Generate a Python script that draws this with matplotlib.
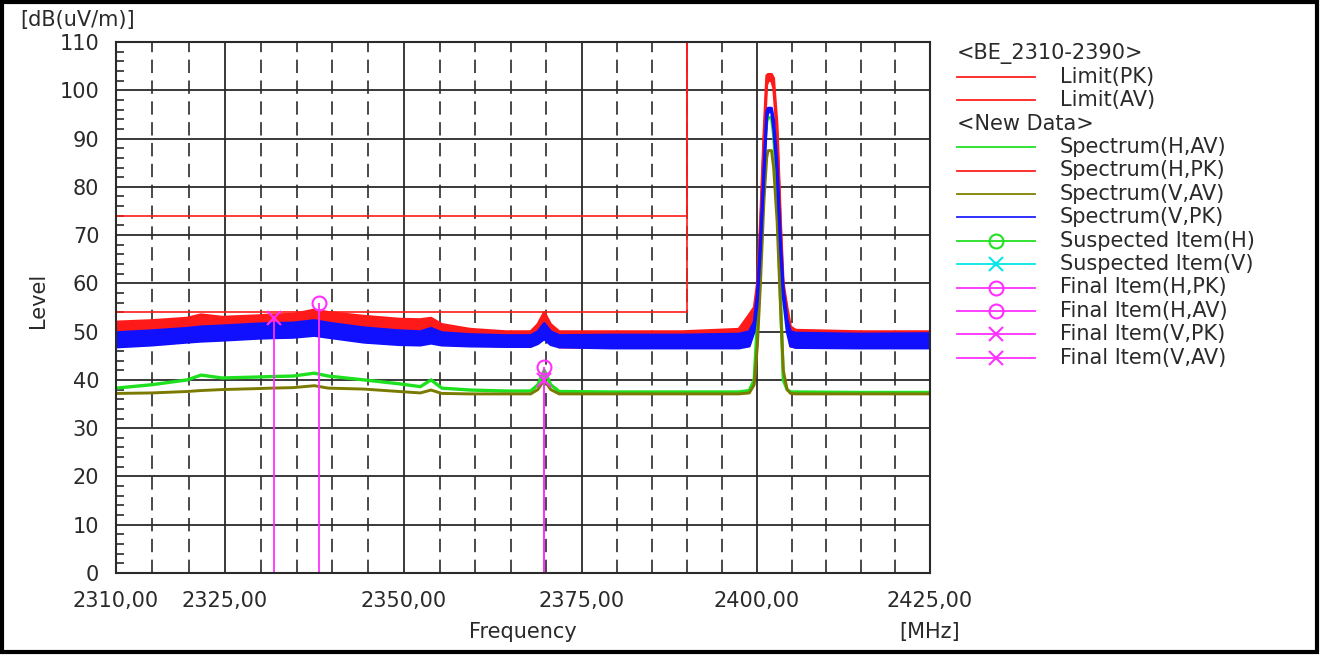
import matplotlib
matplotlib.use('Agg')
import matplotlib.pyplot as plt
import numpy as np
from matplotlib.lines import Line2D
from matplotlib.patches import Rectangle

# ---------------- data ----------------
freq = [2310, 2314.9, 2319.8, 2321.7, 2324.6, 2329.55, 2331.5, 2334.5, 2337.5, 2339.4,
        2344.4, 2349.3, 2352.3, 2353.8, 2355.3, 2359.3, 2364.3, 2367.8, 2368.8, 2369.7,
        2370.6, 2371.8, 2379.2, 2389.3, 2397.4, 2398.9, 2399.6, 2400.05, 2400.5, 2401.0,
        2401.4, 2401.6, 2402.1, 2402.4, 2402.9, 2403.4, 2403.8, 2404.35, 2404.85, 2405.6,
        2414.8, 2425]

# Spectrum(H,PK) noise band (lower / upper envelope)
hpk_lo = [47.5, 47.8, 48.2, 48.5, 48.5, 49.0, 49.2, 49.3, 49.8, 49.5, 48.5, 48.0,
          47.8, 48.2, 47.5, 47.2, 47.0, 47.0, 48.0, 50.0, 48.0, 46.8,
          46.7, 46.7, 46.8, 49.0, 53.0, 58.0, 71.0, 89.0, 101.0, 102.0,
          102.0, 100.5, 91.0, 71.0, 58.0, 52.0, 47.0, 46.8, 46.7, 46.7]
hpk_hi = [52.0, 52.3, 52.8, 53.5, 53.0, 53.3, 53.5, 53.6, 54.5, 54.0, 53.2, 52.6,
          52.5, 52.8, 51.5, 50.5, 50.0, 50.0, 51.5, 54.0, 51.5, 50.0,
          50.0, 50.0, 50.5, 53.5, 55.0, 60.0, 73.0, 91.0, 103.0, 103.3,
          103.3, 102.5, 93.0, 73.0, 60.0, 55.0, 51.0, 50.3, 50.0, 50.0]

# Spectrum(V,PK) noise band
vpk_lo = [46.8, 47.2, 47.8, 48.0, 48.2, 48.6, 48.7, 48.8, 49.2, 48.8, 47.8, 47.3,
          47.2, 47.6, 47.2, 47.0, 46.9, 46.9, 47.5, 48.5, 47.3, 46.8,
          46.6, 46.6, 46.6, 47.0, 50.0, 56.0, 67.0, 82.0, 94.0, 95.5,
          95.5, 92.0, 83.0, 67.0, 57.0, 50.0, 47.0, 46.7, 46.6, 46.6]
vpk_hi = [49.8, 50.2, 50.7, 51.0, 51.2, 51.6, 51.7, 51.8, 52.3, 51.8, 50.8, 50.2,
          50.0, 50.7, 49.8, 49.4, 49.2, 49.2, 50.0, 51.7, 50.0, 49.2,
          49.3, 49.3, 49.5, 50.0, 52.0, 58.0, 69.0, 84.0, 95.5, 96.3,
          96.3, 94.0, 85.0, 69.0, 59.0, 52.5, 50.0, 49.7, 49.5, 49.6]

# Spectrum(H,AV)
hav = [38.3, 39.0, 40.0, 41.0, 40.4, 40.6, 40.7, 40.8, 41.4, 40.8, 40.0, 39.2,
       38.6, 40.0, 38.3, 37.9, 37.7, 37.7, 39.0, 42.0, 39.0, 37.6,
       37.5, 37.5, 37.5, 37.8, 40.0, 52.0, 68.0, 87.0, 93.5, 94.3,
       94.3, 91.0, 80.0, 57.0, 40.0, 38.0, 37.5, 37.5, 37.4, 37.4]

# Spectrum(V,AV)
vav = [37.2, 37.3, 37.6, 37.8, 38.0, 38.2, 38.3, 38.4, 38.8, 38.3, 38.1, 37.6,
       37.3, 37.9, 37.2, 37.1, 37.1, 37.1, 38.0, 40.0, 38.0, 37.1,
       37.1, 37.1, 37.1, 37.3, 39.0, 47.0, 60.0, 77.0, 86.0, 87.5,
       87.5, 84.0, 73.0, 55.0, 42.0, 38.0, 37.2, 37.1, 37.1, 37.1]

# Limits <BE_2310-2390>
limit_freq = [2310, 2390, 2390]
limit_pk = [74, 74, 120]
limit_av = [54, 54, 120]

# Final items
final_h_pk_f, final_h_pk_v = [2338.1], [56.0]
final_h_av_f, final_h_av_v = [2369.7], [42.6]
final_v_pk_f, final_v_pk_v = [2331.8], [52.8]
final_v_av_f, final_v_av_v = [2369.7], [40.0]

xtick_vals = [2310, 2325, 2350, 2375, 2400, 2425]
xtick_labels = ["2310,00", "2325,00", "2350,00", "2375,00", "2400,00", "2425,00"]
ytick_vals = list(range(0, 111, 10))

legend_rows = [
    ("<BE_2310-2390>", None, None),
    ("Limit(PK)", '#ff2020', None),
    ("Limit(AV)", '#ff2020', None),
    ("<New Data>", None, None),
    ("Spectrum(H,AV)", '#22e022', None),
    ("Spectrum(H,PK)", '#ff2020', None),
    ("Spectrum(V,AV)", '#808000', None),
    ("Spectrum(V,PK)", '#2020ff', None),
    ("Suspected Item(H)", '#22e022', 'o'),
    ("Suspected Item(V)", '#00e8e8', 'x'),
    ("Final Item(H,PK)", '#ff30ff', 'o'),
    ("Final Item(H,AV)", '#ff30ff', 'o'),
    ("Final Item(V,PK)", '#ff30ff', 'x'),
    ("Final Item(V,AV)", '#ff30ff', 'x'),
]

# ---------------- style ----------------
RED = '#ff1a1a'
BLUE = '#1010ff'
GREEN = '#1ee01e'
OLIVE = '#7a7a00'
MAG = '#ff30ff'
TXT = '#2a2a2a'
GRID = '#2a2a2a'
FS = 15

plt.rcParams['font.family'] = ['DejaVu Sans']

W, H = 1321, 655
fig = plt.figure(figsize=(W / 100, H / 100), dpi=100)
L, R, T, B = 116, 930, 42, 573
ax = fig.add_axes([L / W, 1 - B / H, (R - L) / W, (B - T) / H])

# the reference frequency axis is slightly non-uniform: piecewise-linear scale
_sf = np.array([2310.0, 2325.0, 2350.0, 2375.0, 2400.0, 2425.0])
_sp = np.array([0.0, 109.0, 288.0, 466.0, 641.0, 814.0])


def _fwd(x):
    x = np.asarray(x, dtype=float)
    y = np.interp(x, _sf, _sp)
    lo = x < _sf[0]
    hi = x > _sf[-1]
    y = np.where(lo, _sp[0] + (x - _sf[0]) * (_sp[1] - _sp[0]) / (_sf[1] - _sf[0]), y)
    y = np.where(hi, _sp[-1] + (x - _sf[-1]) * (_sp[-1] - _sp[-2]) / (_sf[-1] - _sf[-2]), y)
    return y


def _inv(y):
    y = np.asarray(y, dtype=float)
    x = np.interp(y, _sp, _sf)
    lo = y < _sp[0]
    hi = y > _sp[-1]
    x = np.where(lo, _sf[0] + (y - _sp[0]) * (_sf[1] - _sf[0]) / (_sp[1] - _sp[0]), x)
    x = np.where(hi, _sf[-1] + (y - _sp[-1]) * (_sf[-1] - _sf[-2]) / (_sp[-1] - _sp[-2]), x)
    return x


ax.set_xscale('function', functions=(_fwd, _inv))
ax.set_xlim(2310, 2425)
ax.set_ylim(0, 110)

# grid
for f in range(2315, 2425, 5):
    if f in xtick_vals:
        ax.axvline(f, color=GRID, lw=1.3, zorder=1)
    else:
        ax.axvline(f, color=GRID, lw=1.2, ls=(0, (8, 4.5)), zorder=1)
for y in range(10, 110, 10):
    ax.axhline(y, color=GRID, lw=1.3, zorder=1)

# limits
ax.plot(limit_freq, limit_pk, color=RED, lw=1.2, zorder=3)
ax.plot(limit_freq, limit_av, color=RED, lw=1.2, zorder=3)

# spectra
ax.plot(freq, hav, color=GREEN, lw=2.4, zorder=4)
ax.fill_between(freq, hpk_lo, hpk_hi, color=RED, lw=0, zorder=5)
ax.plot(freq, hpk_lo, color=RED, lw=2.0, zorder=5)
ax.plot(freq, hpk_hi, color=RED, lw=2.0, zorder=5)
ax.plot(freq, vav, color=OLIVE, lw=2.1, zorder=6)
ax.fill_between(freq, vpk_lo, vpk_hi, color=BLUE, lw=0, zorder=7)
ax.plot(freq, vpk_lo, color=BLUE, lw=2.0, zorder=7)
ax.plot(freq, vpk_hi, color=BLUE, lw=2.0, zorder=7)

# final items
for fx, fv, mk in [(final_v_pk_f, final_v_pk_v, 'x'), (final_h_pk_f, final_h_pk_v, 'o'),
                   (final_h_av_f, final_h_av_v, 'o'), (final_v_av_f, final_v_av_v, 'x')]:
    ax.vlines(fx, 0, fv, color=MAG, lw=1.3, zorder=8)
    ax.plot(fx, fv, ls='none', marker=mk, ms=10, mfc='none', mec=MAG, mew=1.5, zorder=9)

# ticks
ax.set_xticks(xtick_vals)
ax.set_xticklabels(xtick_labels, fontsize=FS, color=TXT)
ax.xaxis.set_minor_locator(matplotlib.ticker.NullLocator())
ax.set_yticks(ytick_vals)
ax.set_yticklabels([str(v) for v in ytick_vals], fontsize=FS, color=TXT)
ax.set_yticks(list(range(0, 111, 2)), minor=True)
ax.tick_params(axis='x', length=0, pad=13)
ax.tick_params(axis='y', which='major', length=0, pad=12)
ax.tick_params(axis='y', which='minor', direction='in', length=6, width=1.2, color=GRID)
for s in ax.spines.values():
    s.set_color(GRID)
    s.set_linewidth(1.5)
    s.set_zorder(10)

# labels
fig.text(20 / W, 1 - 20 / H, "[dB(uV/m)]", fontsize=FS, color=TXT, ha='left', va='center')
fig.text(38 / W, 1 - 300 / H, "Level", fontsize=FS, color=TXT, ha='center', va='center', rotation=90)
fig.text(523 / W, 1 - 632 / H, "Frequency", fontsize=FS, color=TXT, ha='center', va='center')
fig.text(930 / W, 1 - 632 / H, "[MHz]", fontsize=FS, color=TXT, ha='center', va='center')

# legend (pixel layout on an overlay axes)
lax = fig.add_axes([0, 0, 1, 1])
lax.set_xlim(0, W)
lax.set_ylim(H, 0)
lax.axis('off')
y0, dy = 53.5, 23.4
for i, (lab, col, mk) in enumerate(legend_rows):
    y = y0 + i * dy
    if col is None:
        lax.text(957, y, lab, fontsize=FS, color=TXT, ha='left', va='center')
    else:
        lax.add_line(Line2D([957, 1035], [y, y], color=col, lw=1.3))
        if mk is not None:
            lax.add_line(Line2D([996], [y], ls='none', marker=mk, ms=10, mfc='none', mec=col, mew=1.5))
        lax.text(1060, y, lab, fontsize=FS, color=TXT, ha='left', va='center')

# outer frame
lax.add_patch(Rectangle((2, 2), W - 6, H - 5, fill=False, ec='black', lw=3))

fig.savefig('out.png', dpi=100)
